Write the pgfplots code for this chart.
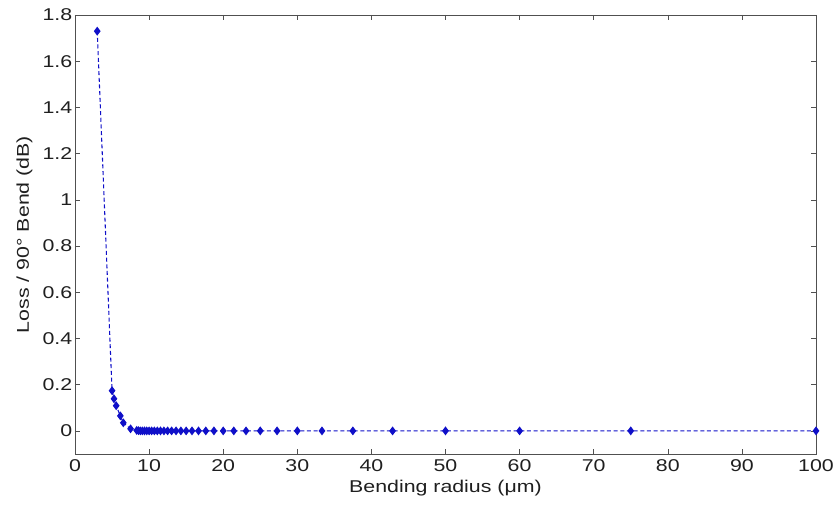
\documentclass[border=0pt]{standalone}
\usepackage{pgfplots}
\pgfplotsset{compat=1.18}
\usepackage{fontspec}
\setmainfont{Liberation Sans}[FakeStretch=1.25]
\definecolor{mblue}{RGB}{15,15,200}
\definecolor{axgray}{RGB}{80,80,80}
\begin{document}
\begin{tikzpicture}[x=1pt,y=1pt]
\useasboundingbox (-56.25,-41.25) rectangle (570.75,340.5);
\begin{axis}[
  at={(0,0)}, anchor=south west,
  scale only axis,
  width=555.75pt, height=329.25pt,
  xmin=0, xmax=100, ymin=-0.1, ymax=1.8,
  xtick={0,10,...,100},
  ytick={0,0.2,0.4,0.6,0.8,1,1.2,1.4,1.6,1.8},
  yticklabels={0,0.2,0.4,0.6,0.8,1,1.2,1.4,1.6,1.8},
  tick align=inside,
  major tick length=4pt,
  axis line style={axgray},
  every tick/.style={axgray},
  tick label style={font=\fontsize{12.8}{14}\selectfont, text=black!88},
  yticklabel style={xshift=1.5pt},
  xticklabel style={yshift=-0.5pt},
  label style={font=\fontsize{12.8}{14}\selectfont, text=black!88},
  /pgf/number format/assume math mode=true,
  xlabel={Bending radius (μm)},
  ylabel={Loss / 90° Bend (dB)},
  xlabel style={at={(axis description cs:0.5,-0.0866)}, anchor=base},
  ylabel style={at={(axis description cs:-0.0621,0.5)}, anchor=base},
  clip=false,
]
\addplot[mblue, densely dashed, thick, mark=diamond*, mark size=2.7pt, mark options={solid, fill=mblue}]
coordinates {
(3,1.73)
(5,0.174)
(5.26,0.139)
(5.56,0.109)
(6.12,0.065)
(6.52,0.035)
(7.5,0.009)
(8.33,0.002)
(8.57,0.001)
(8.82,0)
(9.09,0)
(9.38,0)
(9.68,0)
(10,0)
(10.34,0)
(10.71,0)
(11.11,0)
(11.54,0)
(12,0)
(12.5,0)
(13.04,0)
(13.64,0)
(14.29,0)
(15,0)
(15.79,0)
(16.67,0)
(17.65,0)
(18.75,0)
(20,0)
(21.43,0)
(23.08,0)
(25,0)
(27.27,0)
(30,0)
(33.33,0)
(37.5,0)
(42.86,0)
(50,0)
(60,0)
(75,0)
(100,0)
};
\end{axis}
\end{tikzpicture}
\end{document}
